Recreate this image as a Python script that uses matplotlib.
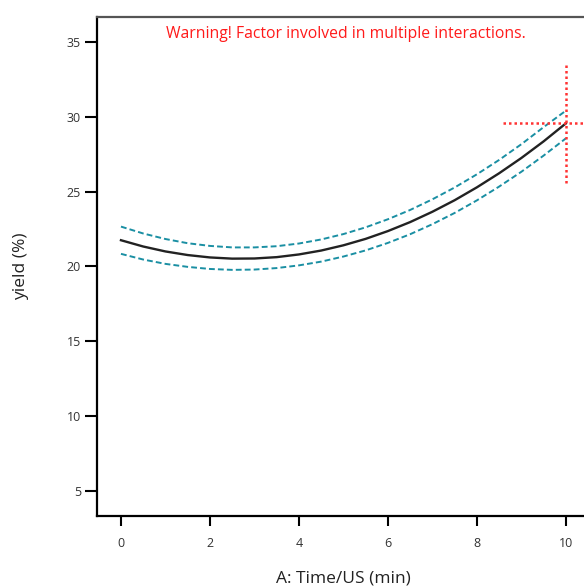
import numpy as np
import matplotlib
matplotlib.use("Agg")
import matplotlib.pyplot as plt

plt.rcParams['font.family'] = ['Open Sans', 'DejaVu Sans']

# A: Time/US (min) and predicted yield (%) with 95% CI bands
time_min = [0, 0.5, 1, 1.5, 2, 2.5, 3, 3.5, 4, 4.5, 5,
            5.5, 6, 6.5, 7, 7.5, 8, 8.5, 9, 9.5, 10]
yield_pred = [21.75, 21.33, 21.00, 20.76, 20.60, 20.52, 20.53, 20.62, 20.80, 21.06, 21.41,
              21.84, 22.36, 22.96, 23.65, 24.42, 25.28, 26.22, 27.24, 28.35, 29.55]
yield_upper = [22.66, 22.20, 21.83, 21.55, 21.37, 21.27, 21.27, 21.35, 21.53, 21.80, 22.16,
               22.61, 23.15, 23.77, 24.48, 25.27, 26.15, 27.11, 28.16, 29.30, 30.40]
yield_lower = [20.84, 20.46, 20.17, 19.97, 19.83, 19.77, 19.79, 19.89, 20.07, 20.32, 20.66,
               21.07, 21.57, 22.15, 22.82, 23.57, 24.41, 25.33, 26.32, 27.40, 28.55]

# current factor setting (red crosshair)
cur_x = 10
cur_y = 29.55
cross_x = [8.58, 11.42]
cross_y = [25.6, 33.68]

xticks = [0, 2, 4, 6, 8, 10]
yticks = [5, 10, 15, 20, 25, 30, 35]

fig = plt.figure(figsize=(5.84, 5.88), dpi=100)
ax = fig.add_axes([0.166, 0.1224, 0.844, 0.849])

teal = '#1a8fa3'
ax.plot(time_min, yield_upper, color=teal, lw=1.4, ls=(0, (3, 1.6)))
ax.plot(time_min, yield_lower, color=teal, lw=1.4, ls=(0, (3, 1.6)))
ax.plot(time_min, yield_pred, color='#222222', lw=1.7)

ax.plot(cross_x, [cur_y, cur_y], color='#ff3333', lw=1.8, ls=(0, (1, 1.2)))
ax.plot([cur_x, cur_x], cross_y, color='#ff3333', lw=1.8, ls=(0, (1, 1.2)))

ax.set_xlim(-0.54, 10.54)
ax.set_ylim(3.33, 36.67)
ax.set_xticks(xticks)
ax.set_yticks(yticks)
ax.tick_params(axis='y', direction='out', length=8.5, width=1.5, pad=3,
               labelsize=9, labelcolor='#333333')
ax.tick_params(axis='x', direction='out', length=7, width=1.5, pad=8,
               labelsize=9, labelcolor='#333333')
for s in ax.spines.values():
    s.set_linewidth(1.6)
ax.spines['top'].set_color('#555555')

ax.set_xlabel('A: Time/US (min)', fontsize=12.5, labelpad=15, color='#222222')
ax.set_ylabel('yield (%)', fontsize=12.5, labelpad=27, color='#222222')

ax.text(0.505, 0.966, 'Warning! Factor involved in multiple interactions.',
        transform=ax.transAxes, ha='center', va='center', color='#ff1a1a',
        fontsize=11.3)

fig.savefig('out.png', dpi=100)
